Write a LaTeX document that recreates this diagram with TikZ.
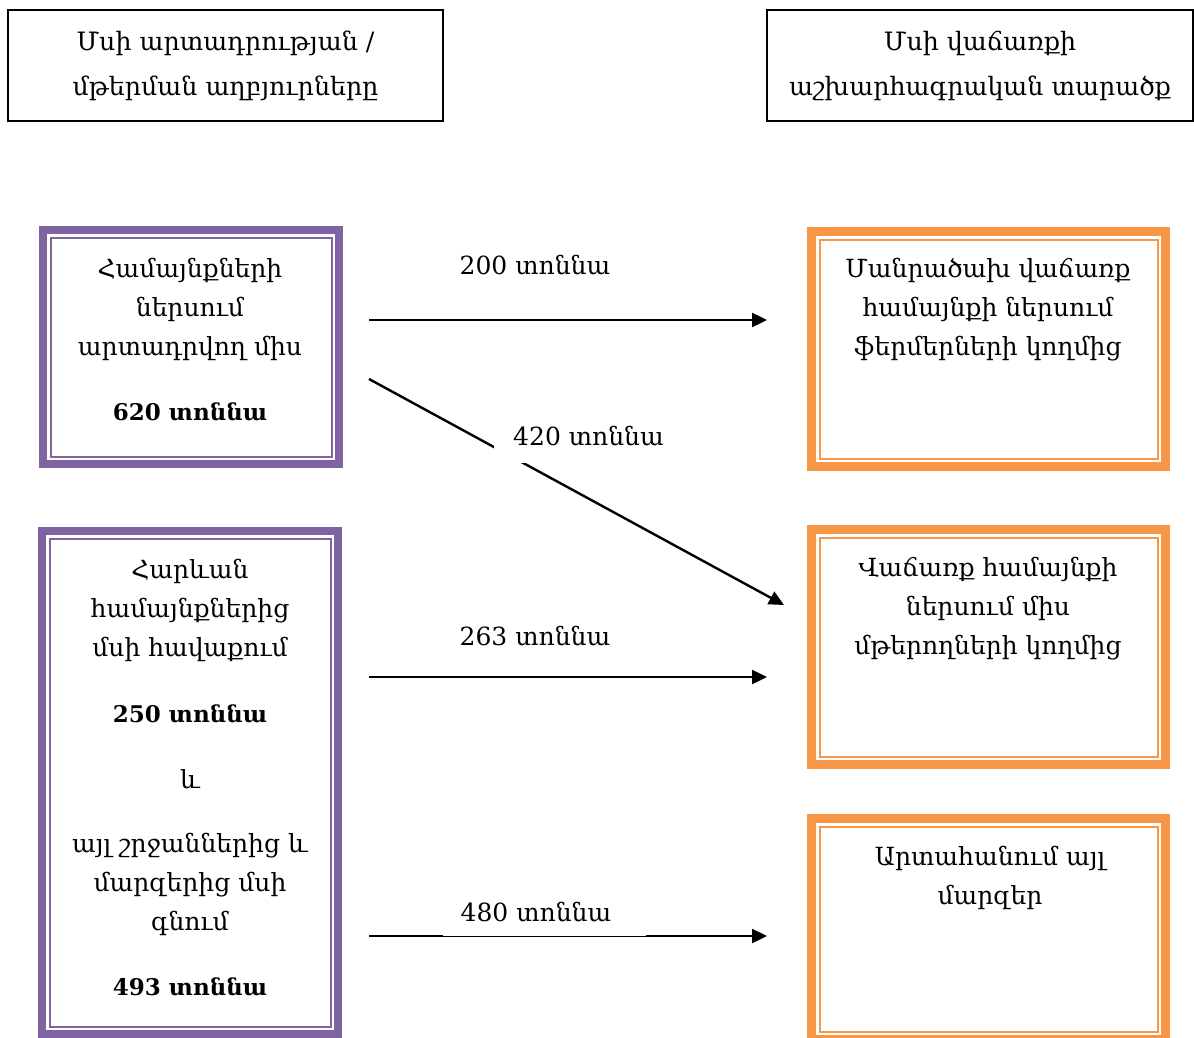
\documentclass[tikz,border=0pt]{standalone}
\usepackage{fontspec}
\setmainfont{DejaVu Serif}
\usetikzlibrary{arrows.meta}
\definecolor{boxpurple}{HTML}{8064A2}
\definecolor{boxorange}{HTML}{F79646}
\tikzset{
  hdr/.style={draw=black, line width=1.5pt, minimum width=#1, minimum height=111pt, outer sep=0pt, inner sep=0pt, align=center, font=\fontsize{25.3}{45}\selectfont},
  pbox/.style={draw=boxpurple, line width=8pt, outer sep=0pt, inner sep=0pt},
  obox/.style={draw=boxorange, line width=9pt, outer sep=0pt, inner sep=0pt},
  txt/.style={align=center, inner sep=0pt, font=\fontsize{25}{39}\selectfont},
  num/.style={inner sep=0pt, font=\fontsize{23}{39}\selectfont\bfseries},
  flow/.style={line width=2.4pt, -{Triangle[length=15pt,width=14pt]}},
  lbl/.style={font=\fontsize{25}{28}\selectfont, inner sep=0pt},
}
\begin{document}
\begin{tikzpicture}[x=1pt,y=-1pt]
\useasboundingbox (0,0) rectangle (1194,1038);
% headers
\node[hdr=435pt] (h1) at (225.5,65.5) {Մսի արտադրության /\\մթերման աղբյուրները};
\node[hdr=426pt] (h2) at (980,65.5) {Մսի վաճառքի\\աշխարհագրական տարածք};
% purple boxes
\node[pbox, minimum width=296pt, minimum height=234pt] (p1) at (191,347) {};
\draw[boxpurple, line width=2pt] ([shift={(7.5,7.5)}]p1.north west) rectangle ([shift={(-7.5,-7.5)}]p1.south east);
\node[pbox, minimum width=296pt, minimum height=503pt] (p2) at (190,782.5) {};
\draw[boxpurple, line width=2pt] ([shift={(7.5,7.5)}]p2.north west) rectangle ([shift={(-7.5,-7.5)}]p2.south east);
% orange boxes
\node[obox, minimum width=354pt, minimum height=235pt] (o1) at (988.5,349) {};
\draw[boxorange, line width=2pt] ([shift={(8,8)}]o1.north west) rectangle ([shift={(-8,-8)}]o1.south east);
\node[obox, minimum width=354pt, minimum height=235pt] (o2) at (988.5,647) {};
\draw[boxorange, line width=2pt] ([shift={(8,8)}]o2.north west) rectangle ([shift={(-8,-8)}]o2.south east);
\node[obox, minimum width=354pt, minimum height=221pt] (o3) at (988.5,929) {};
\draw[boxorange, line width=2pt] ([shift={(8,8)}]o3.north west) rectangle ([shift={(-8,-8)}]o3.south east);
% texts in boxes
\node[txt] (t1) at (190,309) {Համայնքների\\ներսում\\արտադրվող միս};
\node[num] (n1) at (190,412) {620 տոննա};
\node[txt] (t2) at (190,610) {Հարևան\\համայնքներից\\մսի հավաքում};
\node[num] (n2) at (190,714) {250 տոննա};
\node[txt] (t3) at (190,779) {և};
\node[txt] (t4) at (190,884) {այլ շրջաններից և\\մարզերից մսի\\գնում};
\node[num] (n3) at (190,987) {493 տոննա};
\node[txt] (t5) at (988,310) {Մանրածախ վաճառք\\համայնքի ներսում\\ֆերմերների կողմից};
\node[txt] (t6) at (988,609) {Վաճառք համայնքի\\ներսում միս\\մթերողների կողմից};
\node[txt] (t7) at (990,877.5) {Արտահանում այլ\\մարզեր};
% arrows
\coordinate (a1s) at (369,320); \coordinate (a1e) at (767,320);
\coordinate (a2s) at (369,379); \coordinate (a2e) at (784,605);
\coordinate (a3s) at (369,677); \coordinate (a3e) at (767,677);
\coordinate (a4s) at (369,936); \coordinate (a4e) at (767,936);
\draw[flow] (a1s) -- (a1e);
\draw[flow] (a2s) -- (a2e);
\draw[flow] (a3s) -- (a3e);
\draw[flow] (a4s) -- (a4e);
% labels
\node[lbl] (l1) at (535,265) {200 տոննա};
\node[lbl, fill=white, inner xsep=19pt, inner ysep=9pt, anchor=south west] (l2) at (494,463) {\strut 420 տոննա};
\node[lbl] (l3) at (535,636) {263 տոննա};
\node[lbl, fill=white, minimum width=203pt, inner ysep=6pt, anchor=south] (l4) at (544.5,936) {\strut 480 տոննա\kern17pt};
\end{tikzpicture}
\end{document}
